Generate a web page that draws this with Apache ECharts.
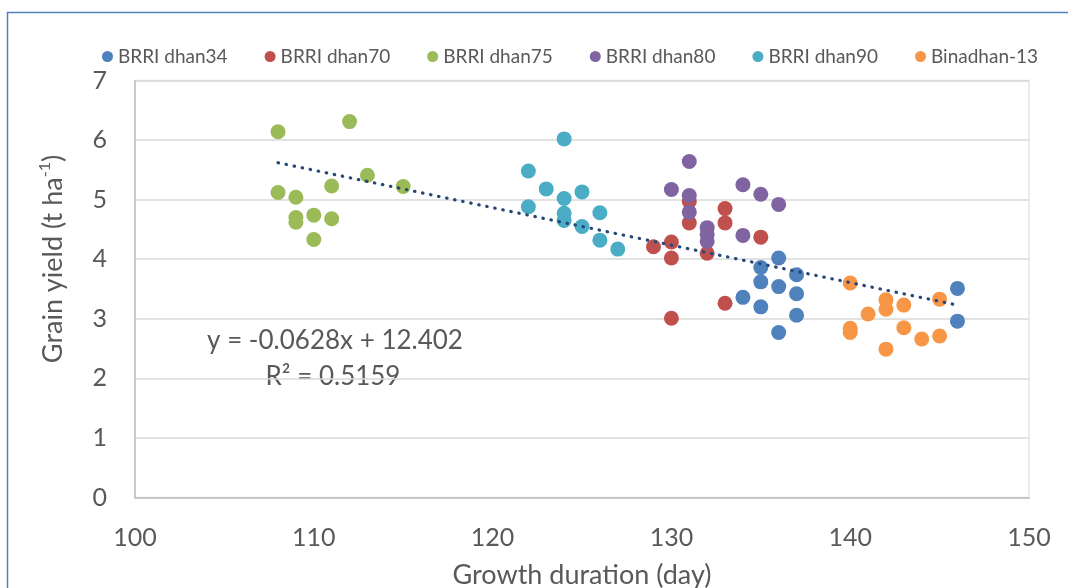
<!DOCTYPE html>
<html>
<head>
<meta charset="utf-8">
<script src="https://cdn.jsdelivr.net/npm/echarts@6/dist/echarts.min.js"></script>
<style>
html,body{margin:0;padding:0;background:#fff;}
#chart{width:1068px;height:588px;}
</style>
</head>
<body>
<div id="chart"></div>
<script>
const seriesNames = ['BRRI dhan34','BRRI dhan70','BRRI dhan75','BRRI dhan80','BRRI dhan90','Binadhan-13'];
const dhan34 = [[134,3.36],[135,3.86],[135,3.62],[135,3.20],[136,4.02],[136,3.54],[136,2.77],[137,3.74],[137,3.42],[137,3.06],[146,3.51],[146,2.96]];
const dhan70 = [[129,4.21],[130,4.29],[130,4.02],[130,3.01],[131,4.97],[131,4.61],[132,4.10],[133,4.85],[133,4.61],[133,3.26],[135,4.37]];
const dhan75 = [[108,6.14],[108,5.12],[109,5.04],[109,4.70],[109,4.62],[110,4.74],[110,4.33],[111,5.23],[111,4.68],[112,6.31],[113,5.41],[115,5.22]];
const dhan80 = [[130,5.17],[131,5.64],[131,5.07],[131,4.79],[132,4.53],[132,4.42],[132,4.30],[134,5.25],[134,4.40],[135,5.09],[136,4.92]];
const dhan90 = [[122,5.48],[122,4.88],[123,5.18],[124,6.02],[124,5.02],[124,4.77],[124,4.65],[125,5.13],[125,4.55],[126,4.78],[126,4.32],[127,4.17]];
const binadhan13 = [[140,3.60],[140,2.84],[140,2.77],[141,3.08],[142,3.32],[142,3.16],[142,2.49],[143,3.23],[143,2.85],[144,2.66],[145,3.33],[145,2.71]];
const trendLine = [[108,5.62],[146,3.23]];
const equationText = 'y = -0.0628x + 12.402';
const r2Text = 'R\u00B2 = 0.5159';
const colors = ['#4F81BD','#C0504D','#9BBB59','#8064A2','#4BACC6','#F79646'];
const allData = [dhan34, dhan70, dhan75, dhan80, dhan90, binadhan13];

const FONT = 'Lato, "Liberation Sans", sans-serif';
const TXT = '#595959';

const chart = echarts.init(document.getElementById('chart'), null, {renderer:'canvas'});
const series = allData.map((d,i)=>({
  name: seriesNames[i], type:'scatter', data:d, symbol:'circle', symbolSize:15,
  itemStyle:{color:colors[i], opacity:1}, z:2
}));
series.push({
  name:'trend', type:'line', data:trendLine, showSymbol:false, symbol:'none', z:5,
  lineStyle:{color:'#24497A', width:3.2, type:[0.5,7.7], cap:'round'}, silent:true
});
chart.setOption({
  animation:false,
  backgroundColor:'#fff',
  color: colors,
  legend:{
    data: seriesNames, top:42, left:97, icon:'circle', itemWidth:11, itemHeight:11,
    itemGap:37,
    textStyle:{fontFamily:FONT, fontSize:19, color:TXT}
  },
  grid:{left:135, right:39, top:80.5, bottom:90.5, show:true, borderColor:'#DCE6F2', borderWidth:1.5,
        containLabel:false, outerBoundsMode:'none'},
  xAxis:{
    type:'value', min:100, max:150, interval:10,
    axisLine:{show:true, onZero:false, lineStyle:{color:'#BFBFBF', width:1.5}},
    axisTick:{show:false},
    splitLine:{show:false},
    axisLabel:{fontFamily:FONT, fontSize:25, color:TXT, margin:28},
    name:'Growth duration (day)', nameLocation:'middle', nameGap:64,
    nameTextStyle:{fontFamily:FONT, fontSize:27, color:TXT}
  },
  yAxis:{
    type:'value', min:0, max:7, interval:1,
    axisLine:{show:true, lineStyle:{color:'#BFBFBF', width:1.5}},
    axisTick:{show:false},
    splitLine:{show:true, lineStyle:{color:'#D9D9D9', width:1.5}},
    axisLabel:{fontFamily:FONT, fontSize:25, color:TXT, margin:28},
    name:'{n|Grain yield (t ha}{s|-1}{n|)}', nameLocation:'middle', nameGap:66,
    nameTextStyle:{
      padding:[0,0,0,60],
      rich:{
        n:{fontFamily:FONT, fontSize:27, color:TXT, lineHeight:32},
        s:{fontFamily:FONT, fontSize:16, color:TXT, lineHeight:16, verticalAlign:'top'}
      }
    }
  },
  graphic:[
    {type:'rect', shape:{x:7.5, y:12.5, width:1200, height:700}, style:{fill:'none', stroke:'#5081BE', lineWidth:1.5}, silent:true, z:-1},
    {type:'text', x:335, y:341, style:{text:equationText, fontFamily:FONT, fontSize:26, fill:TXT, textAlign:'center', textVerticalAlign:'middle'}},
    {type:'text', x:333, y:377, style:{text:r2Text, fontFamily:FONT, fontSize:26, fill:TXT, textAlign:'center', textVerticalAlign:'middle'}}
  ],
  series: series
});
</script>
</body>
</html>
